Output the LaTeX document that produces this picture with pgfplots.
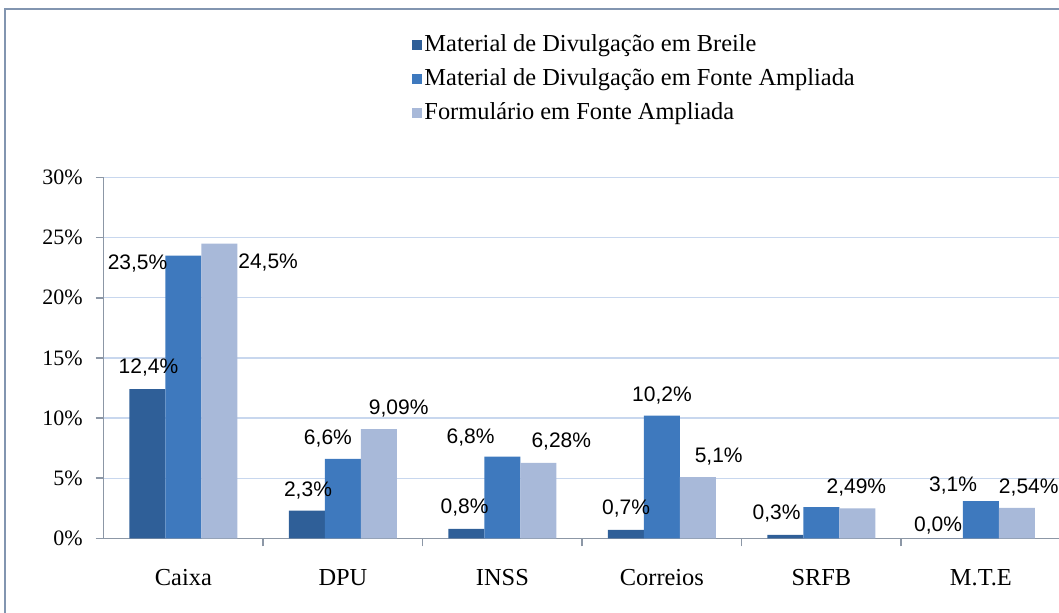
\documentclass[border=0pt]{standalone}
\usepackage{pgfplots}
\pgfplotsset{compat=1.18}
\usepackage{fontspec}
\setmainfont{Liberation Serif}
\newfontfamily\lblfont{Liberation Sans}
\definecolor{cA}{HTML}{2F5F98}
\definecolor{cB}{HTML}{3E79BE}
\definecolor{cC}{HTML}{A8B9D9}
\definecolor{gridc}{HTML}{C8D7EE}
\definecolor{axisc}{HTML}{8C97A6}
\definecolor{framec}{HTML}{8295B0}
\tikzset{lbl/.style={font=\lblfont\fontsize{10.5}{12}\selectfont, text=black, inner sep=0pt}}
\begin{document}
\begin{tikzpicture}[x=0.5pt,y=0.5pt]
\path[use as bounding box] (0,0) rectangle (1059,613);
\draw[framec, line width=1.2pt] (5,0) -- (5,604) -- (1062,604);
\begin{axis}[
  at={(115,62)}, anchor=origin, scale only axis,
  width=478.5pt, height=180.5pt,
  xmin=-0.5, xmax=5.5, ymin=0, ymax=30,
  clip=false,
  axis x line*=bottom, axis y line*=left,
  axis line style={draw=axisc, line width=0.8pt, -},
  tick align=outside, major tick length=4pt,
  tick style={draw=axisc, line width=0.8pt},
  ytick={0,5,...,30},
  yticklabels={0\%,5\%,10\%,15\%,20\%,25\%,30\%},
  yticklabel style={font=\fontsize{11}{13}\selectfont, xshift=-3pt},
  ymajorgrids, grid style={draw=gridc, line width=0.7pt},
  xtick={0.5,1.5,2.5,3.5,4.5}, xticklabels={},
  extra x ticks={0,1,2,3,4,5},
  extra x tick labels={Caixa,DPU,INSS,Correios,SRFB,M.T.E},
  extra x tick style={major tick length=0pt, grid=none,
     xticklabel style={font=\fontsize{12.2}{14}\selectfont, yshift=-12pt}},
  ybar=0pt, bar width=18pt,
  legend style={at={(0.316,1.413)}, anchor=north west, draw=none, fill=none,
     font=\fontsize{12.2}{14}\selectfont, row sep=5.1pt,
     nodes={inner sep=1pt}},
  legend cell align=left,
  legend image code/.code={\fill[#1] (0pt,-2.5pt) rectangle (5pt,2.5pt);},
]
\addplot[fill=cA, draw=none] coordinates {(0,12.4) (1,2.3) (2,0.8) (3,0.7) (4,0.3) (5,0.0)};
\addplot[fill=cB, draw=none] coordinates {(0,23.5) (1,6.6) (2,6.8) (3,10.2) (4,2.6) (5,3.1)};
\addplot[fill=cC, draw=none] coordinates {(0,24.5) (1,9.09) (2,6.28) (3,5.1) (4,2.49) (5,2.54)};
\legend{Material de Divulgação em Breile, Material de Divulgação em Fonte Ampliada, Formulário em Fonte Ampliada}
\node[lbl] at (axis cs:-0.219,14.21) {12,4\%};
\node[lbl] at (axis cs:-0.2875,22.85) {23,5\%};
\node[lbl] at (axis cs:0.531,22.94) {24,5\%};
\node[lbl] at (axis cs:0.781,3.99) {2,3\%};
\node[lbl] at (axis cs:0.906,8.31) {6,6\%};
\node[lbl] at (axis cs:1.35,10.80) {9,09\%};
\node[lbl] at (axis cs:1.7625,2.58) {0,8\%};
\node[lbl] at (axis cs:1.80,8.39) {6,8\%};
\node[lbl] at (axis cs:2.369,8.06) {6,28\%};
\node[lbl] at (axis cs:2.775,2.49) {0,7\%};
\node[lbl] at (axis cs:3.0,11.88) {10,2\%};
\node[lbl] at (axis cs:3.356,6.81) {5,1\%};
\node[lbl] at (axis cs:3.719,2.08) {0,3\%};
\node[lbl] at (axis cs:4.219,4.24) {2,49\%};
\node[lbl] at (axis cs:4.731,1.08) {0,0\%};
\node[lbl] at (axis cs:4.825,4.40) {3,1\%};
\node[lbl] at (axis cs:5.30,4.24) {2,54\%};
\end{axis}
\end{tikzpicture}
\end{document}
